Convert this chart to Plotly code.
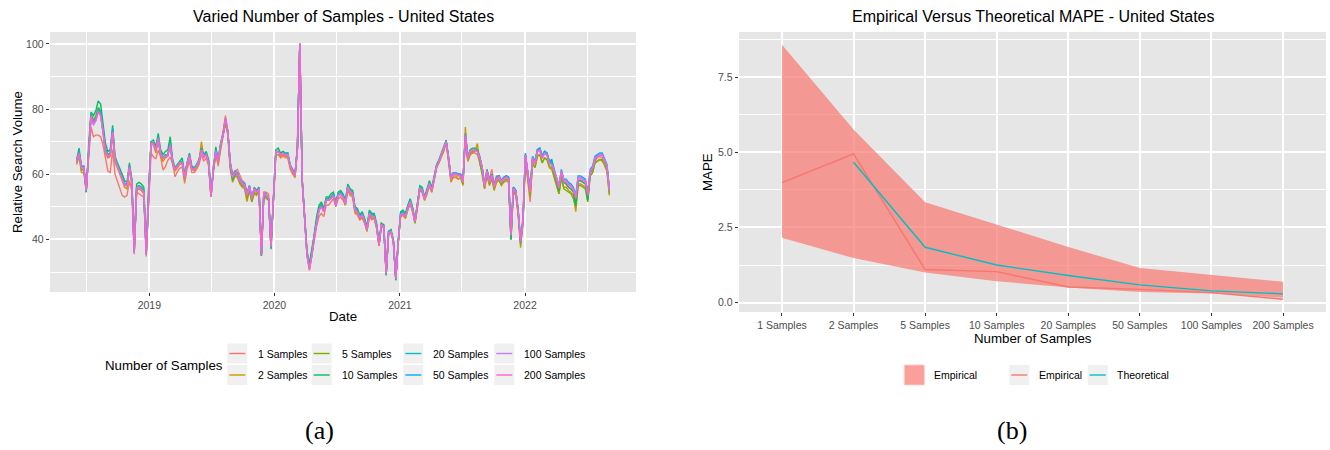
import pandas as pd
import plotly.graph_objects as go

W, H = 1330, 450

# ---------------- weekly relative search volume (left panel) ----------------
week_start = "2018-06-03"
n_weeks = 223
dates = pd.date_range(week_start, periods=n_weeks, freq="7D")

samples_1 = [
    63.5, 65.5, 61.5, 61, 55.5, 66, 74.5, 71.5, 72, 72,
    71.5, 69, 64.5, 61, 60.5, 67.5, 60, 58, 56, 53.5,
    53, 53.5, 58, 55, 35.5, 54.5, 54, 53.5, 53, 34.8,
    53, 66.5, 65.3, 64.8, 67.4, 65.3, 61.3, 62.3, 64.3, 65.3,
    63.3, 59.2, 60.8, 61.8, 62.3, 57.2, 61.5, 64, 60.5, 60.5,
    61.5, 63, 66, 64, 65, 62.5, 53, 61, 66, 62.5,
    68, 72.5, 78, 73.5, 64, 60, 61, 61.5, 60, 58,
    57.5, 54.5, 56.5, 53, 55, 55, 56, 35.5, 54.5, 54.5,
    54, 38.5, 51.5, 66, 66, 65, 65.5, 65, 65, 61.5,
    60, 59, 67.5, 100, 58, 44.5, 35, 30.5, 34.5, 39.5,
    44, 47, 48, 47, 50.5, 50.5, 51.5, 52.5, 50, 52.5,
    53, 52, 50.5, 55, 53.5, 53, 48, 47.5, 46, 46.5,
    45, 42.5, 47, 46, 46.5, 43.5, 38, 45, 44.5, 30,
    42.5, 43, 39, 28, 39, 47, 47.5, 46.5, 49, 51,
    48.5, 45, 50, 55, 54.5, 52, 54, 56.5, 54.5, 58,
    62, 63.5, 65.5, 67, 69.5, 64, 58, 59, 59, 58.5,
    59, 57, 71, 64, 66, 66.5, 66.5, 66, 63.5, 61,
    55.5, 61.5, 58.5, 61.5, 57, 59.5, 59.5, 58, 59, 59.5,
    59, 41.5, 56, 55, 48, 39.5, 47, 66, 58, 51.5,
    64, 63.5, 67, 68, 66, 66.5, 66, 63.5, 63, 60.5,
    58.5, 55.5, 60, 57.5, 57, 56, 55.5, 55, 52, 58,
    58, 57.5, 57, 53, 60.5, 61.5, 64, 65, 65.5, 65,
    64, 62, 54.5,
]

samples_2 = [
    63, 65.5, 60.5, 60.5, 55.5, 67.5, 77.5, 76, 77.5, 80,
    79.5, 74, 66.5, 65, 65.5, 72, 63.5, 62, 60, 58,
    56, 55.5, 61.5, 57, 36.5, 55, 55.5, 55, 54, 35.5,
    55, 69, 69, 66.5, 70.5, 65.5, 64, 65, 65.5, 70,
    63, 61, 62, 63, 63.5, 58, 62.5, 65.5, 61.5, 61,
    62, 63.5, 70, 65, 66.5, 63, 53, 61.5, 66, 63.5,
    67.5, 71, 75.5, 72, 61.5, 57.5, 59.5, 59, 57, 56,
    55.5, 51.6, 55, 51.5, 54, 53.5, 55, 35, 53.5, 52.5,
    52, 37.5, 51.5, 66, 66, 65.5, 66, 65.5, 65.5, 62,
    60.5, 59, 67.5, 100, 57.5, 45, 35.5, 31.5, 35.5, 41,
    46, 49.5, 50.5, 49, 52.5, 52.5, 53, 53.5, 50.5, 53.5,
    54, 53, 50.5, 56, 54, 53.5, 48.5, 48, 46, 47,
    45, 42.5, 47.5, 46.5, 46.5, 43.5, 38, 44, 43.5, 29.5,
    41.5, 42, 39, 28, 38.5, 47, 47.5, 46.5, 49, 51,
    48.5, 45, 49.5, 55, 54.5, 52, 54, 56.5, 54.5, 58.5,
    62, 63.5, 65.5, 67, 70, 64, 57.5, 59.5, 59.5, 58.5,
    59, 56.5, 74.5, 64, 66, 66.5, 67, 69.4, 63.5, 60.5,
    55.5, 59.5, 56.5, 58.5, 55, 57.5, 58, 56.5, 57.5, 58,
    57.5, 40, 54.5, 53.5, 47.5, 37.5, 45, 64.5, 58, 53,
    63.5, 62, 65.5, 66, 63.5, 65, 64.5, 62, 61.5, 59,
    57, 54, 59, 56, 56, 55, 54.5, 53.5, 48.5, 57,
    57, 56.5, 56, 52, 59.5, 60.5, 63.5, 64, 64.5, 64,
    63, 61, 53.5,
]

samples_5 = [
    64, 67, 61.5, 61.5, 54.5, 68, 78.5, 76.5, 78, 80.5,
    79.5, 74.5, 68, 66, 66.5, 73.5, 64.5, 62.5, 61, 59,
    57, 57, 62.5, 58, 36.5, 56, 56.5, 56, 55, 36,
    55.5, 69.5, 69.5, 67.5, 71.5, 66.5, 65, 66, 66, 69.5,
    64, 61.5, 62.5, 63.5, 64, 59, 63, 66, 62, 61.5,
    62.5, 64, 68, 65.5, 66.5, 64, 54, 62, 67.5, 64,
    69, 72, 76, 72.5, 62.5, 58, 59.5, 59.5, 57.5, 56.5,
    56, 52.5, 55.5, 51.5, 54.5, 54, 55, 35, 53.5, 53,
    52, 37.5, 51.5, 66.5, 67, 66, 66.5, 66, 66, 62.5,
    61, 59.5, 68, 100, 58, 45, 36, 32, 36, 41,
    46, 49.5, 51, 49, 52.5, 52.5, 53, 54, 51, 54,
    54.5, 53.5, 51.5, 56.5, 55, 54.5, 49.5, 49, 47, 48,
    46, 43.5, 48.5, 47.5, 47.5, 44.5, 38.5, 44.5, 44, 29,
    42, 42.5, 39.5, 27.5, 39, 48, 48.5, 47.5, 50, 52,
    49.5, 45, 50.5, 56, 55.5, 52.5, 55, 57.5, 55, 59,
    62.5, 64, 66, 67.5, 70, 64.5, 58.5, 60, 60, 59.5,
    59.5, 57, 72, 64.5, 66.5, 67, 67.5, 67.5, 64, 60.5,
    56, 60, 57, 59, 55.5, 58, 58.5, 57, 58, 58.5,
    58, 40, 55, 54, 48, 38.5, 45, 64.5, 58.5, 53.5,
    63.5, 62, 65.5, 66, 63.5, 65, 64.5, 62.5, 62, 59.5,
    57, 54, 59, 55.5, 55, 54.5, 54, 52.5, 50, 56.5,
    56.5, 56, 55.5, 51.5, 59.5, 60.5, 63.5, 64, 64.5, 64.5,
    63, 61, 54,
]

samples_10 = [
    64.5, 68, 62.5, 62.5, 54.5, 69, 79, 78, 79.5, 82.5,
    81.5, 76, 69.5, 67, 67.5, 75, 65.5, 63.5, 62, 60,
    58, 57.5, 63.5, 58.5, 37, 57, 57.5, 57, 56, 36.5,
    56, 70, 70.5, 68.5, 72.5, 67.5, 66, 67, 67.5, 71.5,
    64.5, 62, 63, 64, 65, 60, 63.5, 66.5, 62.5, 62,
    63, 64.5, 68, 66, 67, 64.5, 54.5, 62.5, 68.4, 64.5,
    69.5, 72.5, 76.5, 73, 62.5, 58.5, 60, 60, 58, 57,
    56.5, 53.5, 56, 52.5, 56, 55, 56, 35, 54, 53.5,
    52.5, 37, 52, 67.5, 68, 66.5, 67, 66.5, 66.5, 63,
    61.5, 60, 68.5, 100, 58.5, 45.5, 36.5, 32.5, 36.5, 41.5,
    47, 50.5, 51.5, 49.5, 53, 53, 54, 54.5, 51.5, 54.5,
    55, 54, 52, 57, 55.5, 55, 50, 49.5, 47.5, 48.5,
    46.5, 44, 49, 48, 48, 45, 39, 45, 44.5, 29,
    42.5, 43, 40, 27.5, 39.5, 48.5, 49, 48, 50.5, 52.5,
    50, 46, 51, 56.5, 56, 53, 55.5, 58, 56, 59.5,
    63, 64.5, 66.5, 68.5, 70.5, 65, 59, 60.5, 60.5, 60,
    60, 58, 72.5, 65.5, 67.5, 68, 68, 67.5, 65.5, 62,
    57, 61.5, 58, 60, 56.5, 59, 59.5, 58, 59, 59.5,
    59, 40, 56, 55, 49, 39.5, 46, 66, 60, 55,
    65, 64, 67.5, 68, 65.5, 67, 66.5, 64, 64.5, 61,
    58.5, 55, 61, 57.5, 57, 56, 55.5, 54.5, 50.5, 58,
    58, 57.5, 57, 52, 60.5, 61.5, 64.5, 65.5, 66, 66,
    64.5, 62.5, 55.5,
]

samples_20 = [
    64, 67, 62.5, 62, 55, 68.5, 78.5, 76.5, 77, 80,
    79, 73.5, 67.5, 66, 66.5, 74, 64.5, 63, 61, 59,
    57, 57, 62.5, 58, 36, 56, 56.5, 56, 55, 35.5,
    55.5, 70, 69.5, 67.5, 71.5, 66.5, 65, 66, 66, 69.5,
    64, 61.5, 63, 63.5, 64, 59.5, 63.5, 66, 62, 61.5,
    63, 64.5, 67.5, 65.5, 66.5, 64, 53.5, 62.5, 67.5, 64.5,
    69, 72, 77, 73, 63.5, 59, 60.5, 60.5, 58, 57.5,
    57, 53.5, 56.5, 52.5, 55.5, 55, 55.5, 35.5, 54.5, 54,
    52.5, 37.5, 52, 67, 67, 66, 66.5, 66, 66.5, 62.5,
    61, 60, 68, 100, 58, 45, 36, 31.5, 35.5, 41,
    46, 49.5, 50.5, 49, 52.5, 52.5, 53, 54, 51, 54,
    54.5, 53.5, 51.5, 56.5, 55, 54.5, 49.5, 49, 47, 48,
    46, 43.5, 48.5, 47.5, 47.5, 44.5, 38.5, 44.5, 44, 29.5,
    42.5, 42.5, 39.5, 28, 39, 48, 48.5, 47.5, 50, 52,
    49.5, 45.5, 51, 56, 55.5, 53, 55, 57.5, 55.5, 59,
    62.5, 64, 66, 67.5, 70, 65, 59, 60.5, 60.5, 60,
    60, 58, 72, 65, 67, 67.5, 67.5, 67, 65, 62,
    56.5, 61, 58, 60, 56.5, 59, 59.5, 58, 59, 59.5,
    59, 41, 56, 55, 48.5, 39, 45.5, 66, 60, 55,
    65, 63.5, 67, 67.5, 65, 66.5, 66, 63.5, 63.5, 61,
    59, 56, 61, 58, 58, 57, 56.5, 55.5, 53, 59,
    59, 58.5, 58, 54, 61, 62, 65, 65.5, 66, 66,
    64.5, 62.5, 55,
]

samples_50 = [
    64, 66.5, 62.5, 62.5, 55, 68, 78, 75.5, 76.5, 79.5,
    78, 73, 67, 65.5, 66, 73.5, 64.5, 62.5, 60.5, 59,
    57, 56.5, 62.5, 57.5, 36, 55.5, 56, 55.5, 54.5, 35.5,
    55, 69.5, 69.5, 67.5, 71, 66, 65, 65.5, 66, 69,
    63.5, 61.5, 62.5, 63.5, 63.5, 59, 63, 66, 62, 61.5,
    62.5, 64, 67.5, 65.5, 66, 63.5, 53, 62, 67, 64,
    69, 72, 77, 73, 63.5, 59.5, 61, 60.5, 58.5, 57.5,
    57, 54, 56.5, 53, 55.5, 55, 55.5, 35.5, 54.5, 53.5,
    52.5, 38, 52, 67, 67, 66, 66.5, 66, 66, 62.5,
    61, 60, 68, 100, 58, 45, 35.5, 31, 35, 40.5,
    45.5, 49, 50, 48.5, 52, 52, 52.5, 53.5, 50.5, 53.5,
    54, 53, 51, 56, 54.5, 54, 49, 48.5, 46.5, 47.5,
    45.5, 43, 48, 47, 47, 44, 38.5, 44.5, 44, 29.5,
    42, 42.5, 39.5, 28, 39, 47.5, 48, 47, 49.5, 51.5,
    49, 45.5, 50.5, 55.5, 55, 52.5, 54.5, 57, 55, 58.5,
    62.5, 64, 66, 67.5, 70, 65, 59, 60.5, 60.5, 60,
    60, 58, 72, 65, 67, 67.5, 67.5, 67, 65, 62,
    56.5, 61, 58, 60, 56.5, 59, 59.5, 58, 59, 59.5,
    59, 41.5, 56, 55, 49, 39.5, 46, 66.5, 60.5, 55,
    65.5, 64, 67.5, 68, 65.5, 67, 66.5, 64, 64, 61.5,
    59.5, 56.5, 61.5, 58.5, 58.5, 57.5, 57, 56, 53.5, 59.5,
    59.5, 59, 58.5, 54.5, 61.5, 62.5, 65.5, 66, 66.5, 66.5,
    65, 63, 55.5,
]

samples_100 = [
    64, 66, 62, 62, 55, 68, 77.5, 75, 76.5, 79,
    78, 73, 67, 65.5, 66, 73, 64.5, 62.5, 60.5, 58.5,
    56.5, 56.5, 62, 57.5, 36, 55.5, 56, 55.5, 54.5, 35.5,
    55, 69.5, 69, 67.5, 71, 66, 65, 65.5, 65.5, 69,
    63.5, 61.5, 62.5, 63.5, 63.5, 59, 63, 65.5, 61.5, 61.5,
    62.5, 64, 67.5, 65, 66, 63.5, 53, 62, 67, 64,
    69, 72, 77, 73, 63, 59, 60.5, 60, 58, 57,
    56.5, 53.5, 56, 52.5, 55.5, 54.5, 55.5, 35.5, 54.5, 53.5,
    52.5, 38, 52, 67, 67, 66, 66.5, 66, 66, 62.5,
    61, 59.5, 68, 100, 58, 45, 35.5, 31, 35, 40.5,
    45.5, 49, 50, 48.5, 52, 52, 52.5, 53.5, 50.5, 53.5,
    54, 53, 51, 56, 54.5, 54, 49, 48.5, 46.5, 47.5,
    45.5, 43, 48, 47, 47, 44, 38.5, 44.5, 44, 29.5,
    42, 42.5, 39.5, 28, 39, 47.5, 48, 47, 49.5, 51.5,
    49, 45.5, 50.5, 55.5, 55, 52.5, 54.5, 57, 55, 58.5,
    62.5, 64, 66, 67.5, 70, 65, 58.5, 60, 60, 59.5,
    59.5, 57.5, 72, 65, 67, 67.5, 67.5, 67, 65, 62,
    56.5, 61, 57.5, 59.5, 56, 58.5, 59, 57.5, 58.5, 59,
    58.5, 41.5, 55.5, 54.5, 48.5, 39.5, 45.5, 66, 60, 54.5,
    65, 63.5, 67, 67.5, 65, 66.5, 66, 63.5, 63, 61,
    59, 56, 61, 58, 58, 57, 56.5, 55.5, 53, 59,
    59, 58.5, 58, 54, 61, 62, 65, 65.5, 66, 66,
    64.5, 62.5, 55,
]

samples_200 = [
    64, 66.5, 62.3, 61.8, 55, 68, 78, 75.5, 76.5, 79.3,
    78, 73, 67, 65.3, 66, 73, 64.3, 62.3, 60.5, 58.7,
    56.7, 56.5, 62.3, 57.5, 36, 55.7, 56.2, 55.5, 54.5, 35.3,
    55, 69.5, 69.5, 67.4, 71, 66, 64.8, 65.5, 65.8, 69,
    63.5, 61.3, 62.5, 63.5, 63.5, 59, 63, 65.8, 61.8, 61.3,
    62.5, 64, 67.4, 65.3, 66, 63.5, 53, 62, 67, 64,
    68.9, 72, 77, 73, 63, 59, 60.5, 60.2, 58, 57.2,
    56.7, 53.6, 56.2, 52.6, 55.5, 54.6, 55.5, 35.3, 54.6, 53.6,
    52.6, 37.8, 52, 66.9, 66.9, 65.8, 66.4, 65.8, 66, 62.5,
    61, 59.7, 68, 100, 58, 45, 35.5, 31, 35, 40.5,
    45.5, 49, 50, 48.5, 52, 52, 52.6, 53.5, 50.6, 53.6,
    54, 53, 51, 56.2, 54.6, 54, 49, 48.5, 46.5, 47.5,
    45.5, 43, 48, 47, 47, 44, 38.3, 44.4, 44, 29.7,
    42, 42.4, 39.3, 28, 39, 47.5, 48, 47, 49.5, 51.6,
    49, 45.5, 50.6, 55.7, 55.1, 52.6, 54.6, 57.2, 55.1, 58.7,
    62.3, 63.8, 65.8, 67.4, 70, 64.8, 58.7, 60.2, 60.2, 59.7,
    59.7, 57.7, 72, 64.8, 66.9, 67.4, 67.4, 67, 64.8, 61.8,
    56.2, 60.8, 57.7, 59.7, 56.2, 58.7, 59.2, 57.7, 58.7, 59.2,
    58.7, 41.4, 55.7, 54.6, 48.5, 39.3, 45.5, 65.8, 59.7, 54.6,
    64.8, 63.3, 66.9, 67.4, 64.8, 66.4, 65.8, 63.3, 63, 60.8,
    58.7, 55.7, 60.8, 57.7, 57.7, 56.7, 56.2, 55.1, 52.6, 58.7,
    58.5, 58, 57.7, 53.6, 60.8, 61.8, 64.8, 65.3, 65.8, 65.8,
    64.3, 62.3, 55,
]

series_names = ["1 Samples", "2 Samples", "5 Samples", "10 Samples",
                "20 Samples", "50 Samples", "100 Samples", "200 Samples"]
series_values = [samples_1, samples_2, samples_5, samples_10,
                 samples_20, samples_50, samples_100, samples_200]
series_colors = ["#F8766D", "#CD9600", "#7CAE00", "#00BE67",
                 "#00BFC4", "#00A9FF", "#C77CFF", "#FF61CC"]
for vals in series_values:
    assert len(vals) == n_weeks, len(vals)

year_ticks = ["2019-01-01", "2020-01-01", "2021-01-01", "2022-01-01"]
year_labels = ["2019", "2020", "2021", "2022"]
volume_ticks = [40, 60, 80, 100]

# ---------------- MAPE by number of samples (right panel) ----------------
sample_levels = ["1 Samples", "2 Samples", "5 Samples", "10 Samples",
                 "20 Samples", "50 Samples", "100 Samples", "200 Samples"]
mape_empirical = [3.99, 4.95, 1.10, 1.03, 0.52, 0.44, 0.33, 0.11]
mape_upper = [8.58, 5.76, 3.34, 2.60, 1.85, 1.15, 0.91, 0.69]
mape_lower = [2.16, 1.48, 1.00, 0.71, 0.50, 0.35, 0.30, 0.16]
theoretical_levels = sample_levels[1:]
mape_theoretical = [4.67, 1.84, 1.25, 0.90, 0.59, 0.39, 0.29]
mape_ticks = [0.0, 2.5, 5.0, 7.5]

# ---------------- styling helpers ----------------
FONT = "Liberation Sans"
PANEL_BG = "#E6E6E6"
KEY_BG = "#F0F0F0"
TICK_COLOR = "#4D4D4D"
EMP_FILL = "rgba(248,118,109,0.7)"


def fx(px):
    return px / W


def fy(py):
    return 1 - py / H


def expand(lo, hi, frac=0.05):
    pad = (hi - lo) * frac
    return [lo - pad, hi + pad]


fig = go.Figure()

# left panel lines, drawn in level order so 200 Samples ends on top
for name, vals, col in zip(series_names, series_values, series_colors):
    fig.add_trace(go.Scatter(
        x=dates, y=vals, mode="lines", name=name,
        line=dict(color=col, width=1.4), showlegend=False,
        xaxis="x", yaxis="y",
    ))

# right panel ribbon and lines
fig.add_trace(go.Scatter(
    x=sample_levels, y=mape_lower, mode="lines", line=dict(width=0),
    showlegend=False, xaxis="x2", yaxis="y2", hoverinfo="skip",
))
fig.add_trace(go.Scatter(
    x=sample_levels, y=mape_upper, mode="lines", line=dict(width=0),
    fill="tonexty", fillcolor=EMP_FILL, showlegend=False,
    xaxis="x2", yaxis="y2", name="Empirical",
))
fig.add_trace(go.Scatter(
    x=sample_levels, y=mape_empirical, mode="lines", name="Empirical",
    line=dict(color="#F8766D", width=1.4), showlegend=False,
    xaxis="x2", yaxis="y2",
))
fig.add_trace(go.Scatter(
    x=theoretical_levels, y=mape_theoretical, mode="lines", name="Theoretical",
    line=dict(color="#00BFC4", width=1.4), showlegend=False,
    xaxis="x2", yaxis="y2",
))

all_vals = [v for vals in series_values for v in vals]
date_span = dates[-1] - dates[0]
x_range = [dates[0] - date_span * 0.05, dates[-1] + date_span * 0.05]
mape_min = min(mape_lower + mape_empirical)
mape_max = max(mape_upper)

axis_common = dict(
    showline=False, zeroline=False, ticks="outside", ticklen=3.3, tickwidth=1,
    tickcolor="#333333", tickfont=dict(family=FONT, size=10.5, color=TICK_COLOR),
    gridcolor="#FFFFFF", gridwidth=1.5,
)
minor_grid = dict(showgrid=True, gridcolor="#FFFFFF", gridwidth=0.7, ticklen=0)

fig.update_layout(
    width=W, height=H, margin=dict(l=0, r=0, t=0, b=0),
    paper_bgcolor="#FFFFFF", plot_bgcolor=PANEL_BG,
    showlegend=False,
    font=dict(family=FONT, color="#000000"),
    xaxis=dict(
        domain=[fx(50), fx(636)], anchor="y", type="date", range=x_range,
        tickmode="array", tickvals=year_ticks, ticktext=year_labels,
        minor=dict(dtick="M12", tick0="2018-07-01", **minor_grid),
        **axis_common,
    ),
    yaxis=dict(
        domain=[fy(292), fy(32)], anchor="x", range=expand(min(all_vals), max(all_vals)),
        tickmode="array", tickvals=volume_ticks,
        minor=dict(dtick=10, tick0=0, **minor_grid),
        **axis_common,
    ),
    xaxis2=dict(
        domain=[fx(739), fx(1326)], anchor="y2", type="category",
        range=[-0.6, len(sample_levels) - 1 + 0.6],
        categoryorder="array", categoryarray=sample_levels,
        **axis_common,
    ),
    yaxis2=dict(
        domain=[fy(312), fy(32)], anchor="x2", range=expand(mape_min, mape_max),
        tickmode="array", tickvals=mape_ticks, tickformat=".1f",
        minor=dict(dtick=1.25, tick0=0, **minor_grid),
        **axis_common,
    ),
)

annotations = []
shapes = []


def text(s, x, y, size, xanchor="center", angle=0, color="#000000", family=FONT):
    annotations.append(dict(
        text=s, x=fx(x), y=fy(y), xref="paper", yref="paper",
        xanchor=xanchor, yanchor="middle", showarrow=False, textangle=angle,
        font=dict(family=family, size=size, color=color),
    ))


# titles and axis titles
text("Varied Number of Samples - United States", 343, 16, 16)
text("Empirical Versus Theoretical MAPE - United States", 1033, 16, 16)
text("Relative Search Volume", 17, 162, 13.3, angle=-90)
text("Date", 343, 316, 13.3)
text("MAPE", 707, 172, 13.3, angle=-90)
text("Number of Samples", 1033, 338, 13.3)

# left legend: title + 4 columns x 2 rows of line keys
text("Number of Samples", 102.7, 365, 13.3, xanchor="left")
key_cols = [227.3, 311.7, 403.3, 494.3]
label_cols = [255.7, 340.0, 430.7, 522.3]
row_centers = [353.5, 375.0]
for k, (name, col) in enumerate(zip(series_names, series_colors)):
    c, r = divmod(k, 2)
    x0, yc = key_cols[c], row_centers[r]
    shapes.append(dict(type="rect", xref="paper", yref="paper",
                       x0=fx(x0), x1=fx(x0 + 20), y0=fy(yc + 10), y1=fy(yc - 10),
                       fillcolor=KEY_BG, line=dict(width=0), layer="below"))
    shapes.append(dict(type="line", xref="paper", yref="paper",
                       x0=fx(x0 + 2), x1=fx(x0 + 18), y0=fy(yc), y1=fy(yc),
                       line=dict(color=col, width=1.4)))
    text(name, label_cols[c], yc, 10.5, xanchor="left")

# right legend: ribbon key, then the two line keys
shapes.append(dict(type="rect", xref="paper", yref="paper",
                   x0=fx(904.3), x1=fx(924.3), y0=fy(385), y1=fy(365),
                   fillcolor=EMP_FILL, line=dict(width=0.8, color="#FBD0CC")))
text("Empirical", 931.7, 375, 10.5, xanchor="left")
for x0, col, lab, lx in [(1009.3, "#F8766D", "Empirical", 1036.7),
                         (1087.7, "#00BFC4", "Theoretical", 1115.0)]:
    shapes.append(dict(type="rect", xref="paper", yref="paper",
                       x0=fx(x0), x1=fx(x0 + 20), y0=fy(385), y1=fy(365),
                       fillcolor=KEY_BG, line=dict(width=0), layer="below"))
    shapes.append(dict(type="line", xref="paper", yref="paper",
                       x0=fx(x0 + 2), x1=fx(x0 + 18), y0=fy(375), y1=fy(375),
                       line=dict(color=col, width=1.4)))
    text(lab, lx, 375, 10.5, xanchor="left")

# sub-figure captions
text("(a)", 319, 430, 26, family="Liberation Serif")
text("(b)", 1012, 430, 26, family="Liberation Serif")

fig.update_layout(annotations=annotations, shapes=shapes)
fig.write_html("out.html")
